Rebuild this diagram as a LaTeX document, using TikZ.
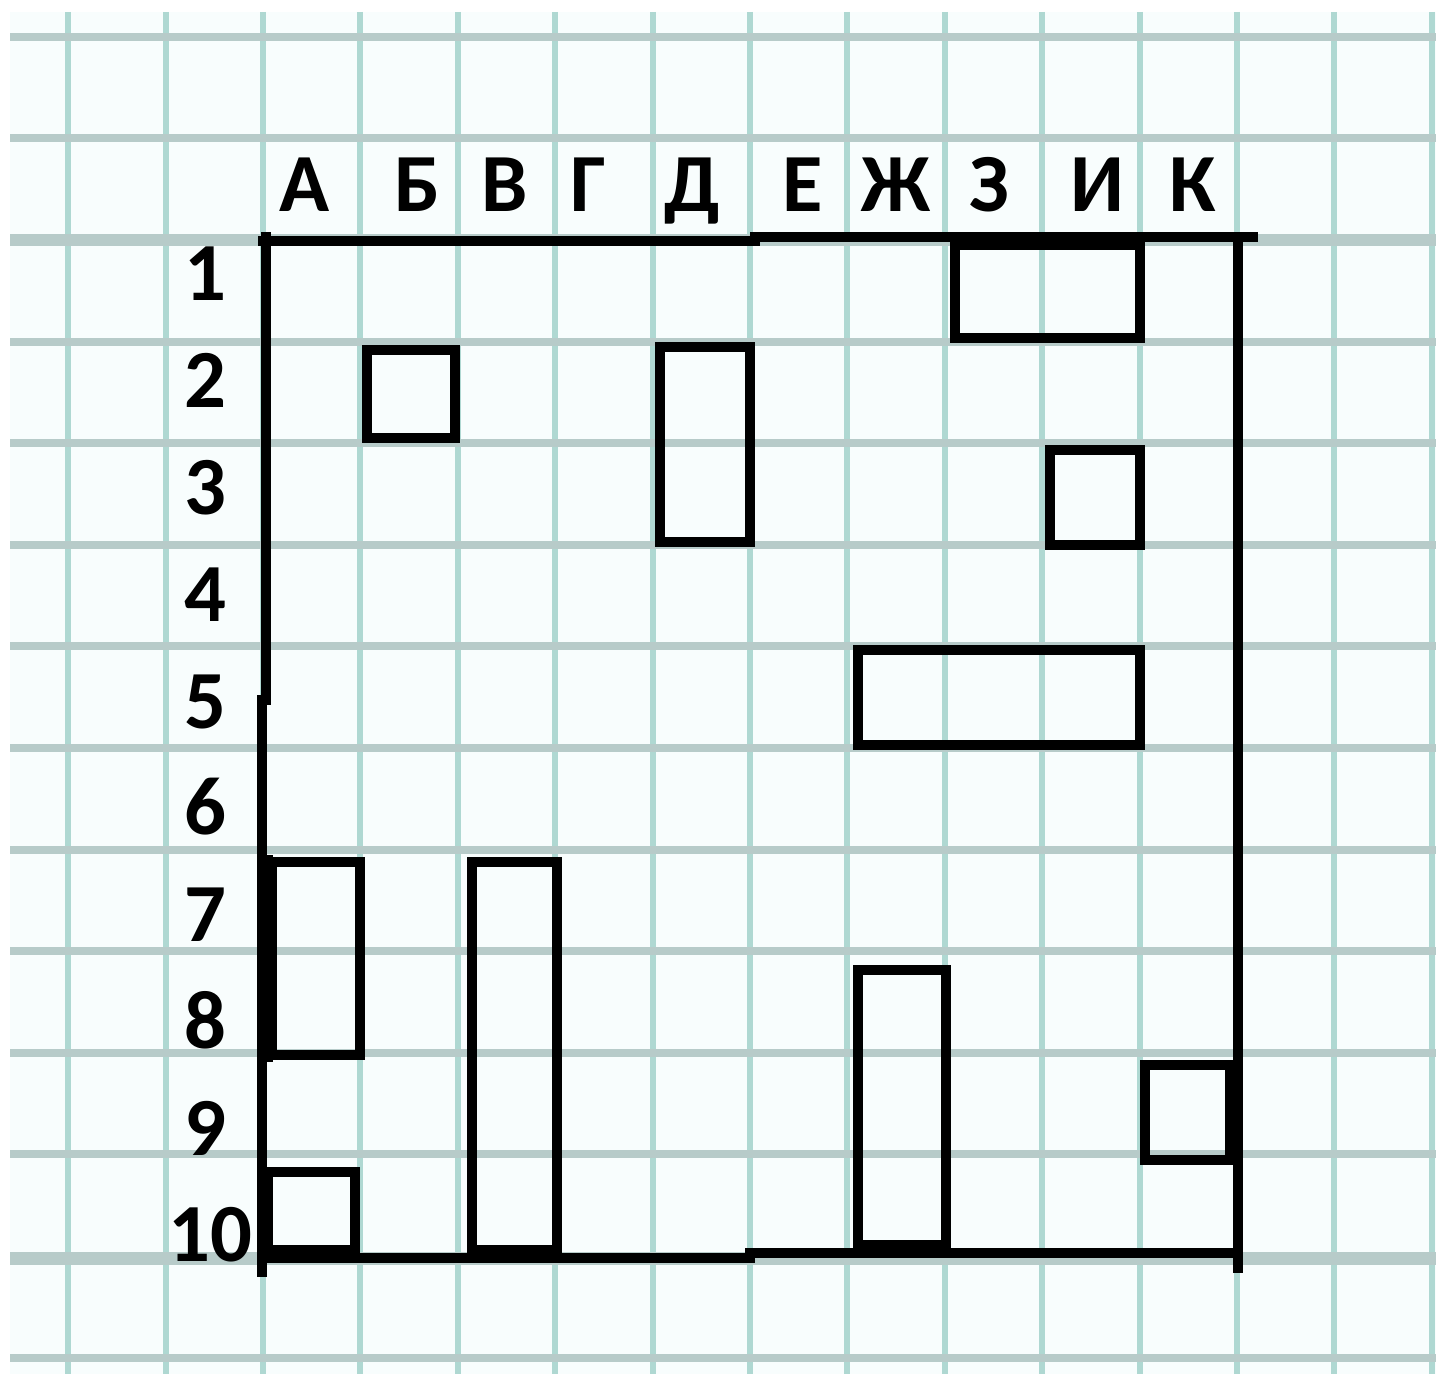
\documentclass[tikz,border=0pt]{standalone}
\usepackage{fontspec}
\setmainfont{Carlito}
\definecolor{paper}{RGB}{248,253,253}
\definecolor{gridv}{RGB}{175,216,210}
\definecolor{gridh}{RGB}{183,203,201}
\begin{document}
\begin{tikzpicture}[x=0.01cm,y=-0.01cm,
every node/.style={font=\bfseries\fontsize{23.5}{28}\selectfont, inner sep=0pt, anchor=base},
vline/.style={draw=gridv, line width=1.7pt},
hline/.style={draw=gridh, line width=2.3pt},
border/.style={draw=black, line width=2.8pt, line cap=rect},
box/.style={draw=black, line width=2.6pt}]
\useasboundingbox (0,0) rectangle (1436,1374);
% squared paper
\fill[paper] (10,12) rectangle (1436,1374);
\begin{scope}
\clip (10,12) rectangle (1436,1374);
\foreach \k in {-2,...,12}
  \draw[vline] ({263+97.4*\k},12) -- ({263+97.4*\k},1374);
\foreach \j in {-2,...,11}
  \draw[hline] (10,{240+101.6*\j}) -- (1436,{240+101.6*\j});
\draw[hline, line width=3.6pt] (10,240) -- (1436,240);
\draw[hline, line width=3.4pt] (10,1259) -- (1436,1259);
\end{scope}
% column letters and row numbers
\foreach \t/\x [count=\i] in {А/305, Б/417, В/505, Г/588, Д/692, Е/803, Ж/896, З/989, И/1097, К/1193}
  \node (L\i) at (\x,212) {\t};
\foreach \n in {1,...,9}
  \node (N\n) at (205,{301+106.8*(\n-1)}) {\n};
\node (N10) at (210,1262) {10};
% field
\draw[border] (263,241) -- (755,241);
\draw[border] (755,237) -- (1253,237);
\draw[border] (1238,237) -- (1238,1268);
\draw[border] (750,1253) -- (1238,1253);
\draw[border] (262,1258) -- (750,1258);
\draw[border] (266,237) -- (266,700);
\draw[border] (262,700) -- (262,1272);
\draw[border, line width=4pt] (266,862) -- (266,1055);
% ships
\draw[box] (955,245) rectangle (1140,338);
\draw[box] (367,350) rectangle (455,438);
\draw[box] (660,347) rectangle (750,542);
\draw[box] (1050,450) rectangle (1140,545);
\draw[box] (858,650) rectangle (1140,745);
\draw[box] (272,862) rectangle (360,1055);
\draw[box] (472,862) rectangle (557,1250);
\draw[box] (858,970) rectangle (946,1245);
\draw[box] (1145,1065) rectangle (1230,1160);
\draw[box] (268,1172) rectangle (355,1250);
\end{tikzpicture}
\end{document}
